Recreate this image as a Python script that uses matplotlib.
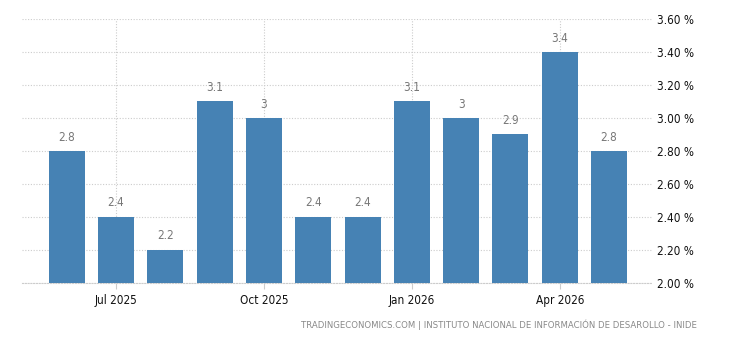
import matplotlib
matplotlib.use("Agg")
import matplotlib.pyplot as plt
from matplotlib import font_manager

months = ["Jun 2025", "Jul 2025", "Aug 2025", "Sep 2025", "Oct 2025", "Nov 2025",
          "Dec 2025", "Jan 2026", "Feb 2026", "Mar 2026", "Apr 2026", "May 2026"]
values = [2.8, 2.4, 2.2, 3.1, 3.0, 2.4, 2.4, 3.1, 3.0, 2.9, 3.4, 2.8]
value_labels = ["2.8", "2.4", "2.2", "3.1", "3", "2.4", "2.4", "3.1", "3", "2.9", "3.4", "2.8"]
tick_months = ["Jul 2025", "Oct 2025", "Jan 2026", "Apr 2026"]
y_ticks = [2.0, 2.2, 2.4, 2.6, 2.8, 3.0, 3.2, 3.4, 3.6]

fam = "DejaVu Sans"
stretch = "condensed" if any("Condensed" in f.fname for f in font_manager.fontManager.ttflist if f.name == "DejaVu Sans") else "normal"
plt.rcParams['font.family'] = [fam]
plt.rcParams['font.stretch'] = stretch

fig = plt.figure(figsize=(7.3, 3.4), dpi=100)
ax = fig.add_axes([0.030, 0.168, 0.863, 0.776])

x = list(range(len(months)))
ax.bar(x, [v - 2.0 for v in values], bottom=2.0, width=0.73, color="#4682b4", zorder=3)
for xi, v, lab in zip(x, values, value_labels):
    ax.text(xi, v + 0.045, lab, ha="center", va="bottom", fontsize=8.5, color="#777777")

ax.set_xlim(-0.91, 11.87)
ax.set_ylim(2.0, 3.6)
ax.set_yticks(y_ticks)
ax.set_yticklabels([f"{t:.2f} %" for t in y_ticks])
ax.yaxis.tick_right()
ax.tick_params(axis="y", length=0, pad=4, labelsize=8.5, labelcolor="#111111")
tpos = [months.index(m) for m in tick_months]
ax.set_xticks(tpos)
ax.set_xticklabels(tick_months)
ax.tick_params(axis="x", length=4, color="#cccccc", pad=4, labelsize=8.5, labelcolor="#111111")

ax.grid(True, color="#cccccc", linestyle=(0, (1, 1.5)), linewidth=0.8, zorder=0)
for s in ["top", "left", "right"]:
    ax.spines[s].set_visible(False)
ax.spines["bottom"].set_color("#cccccc")
ax.spines["bottom"].set_linestyle((0, (1, 1.5)))
ax.spines["bottom"].set_linewidth(0.8)

fig.text(697/730, 1 - 325/340, "TRADINGECONOMICS.COM | INSTITUTO NACIONAL DE INFORMACIÓN DE DESAROLLO - INIDE",
         ha="right", va="center", fontsize=6.8, color="#888888")

fig.savefig("out.png", dpi=100)
